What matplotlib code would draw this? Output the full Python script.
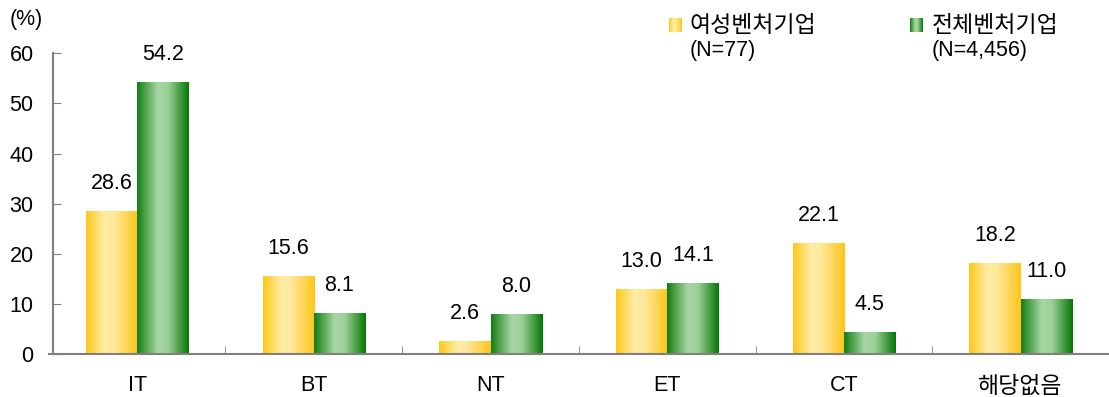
import numpy as np
import matplotlib.pyplot as plt
from matplotlib.colors import to_rgb

plt.rcParams['font.family'] = ['Liberation Sans', 'Noto Sans CJK KR']

categories = ['IT', 'BT', 'NT', 'ET', 'CT', '해당없음']
women = [28.6, 15.6, 2.6, 13.0, 22.1, 18.2]
total = [54.2, 8.1, 8.0, 14.1, 4.5, 11.0]
women_lbl = ['28.6', '15.6', '2.6', '13.0', '22.1', '18.2']
total_lbl = ['54.2', '8.1', '8.0', '14.1', '4.5', '11.0']
series_names = ['여성벤처기업', '전체벤처기업']
series_n = ['(N=77)', '(N=4,456)']

# gradient stops across the bar width (pos, colour)
yellow_stops = [(0.0, '#FFC81A'), (0.35, '#FFECA6'), (0.55, '#FFE89A'), (1.0, '#FFC51A')]
green_stops = [(0.0, '#137F13'), (0.4, '#A9D7A6'), (0.6, '#9CCF98'), (1.0, '#067806')]

FS = 15.5
FS_KR = 16.5


def make_grad(stops, n=64):
    xs = np.linspace(0, 1, n)
    pos = [s[0] for s in stops]
    cols = np.array([to_rgb(s[1]) for s in stops])
    img = np.stack([np.interp(xs, pos, cols[:, k]) for k in range(3)], axis=-1)
    return img[np.newaxis, :, :]


def grad_bar(ax, x, h, w, stops):
    bar = ax.bar(x, h, w, color='none', edgecolor='none')[0]
    im = ax.imshow(make_grad(stops), extent=[x - w / 2, x + w / 2, 0, h],
                   aspect='auto', zorder=2, interpolation='bilinear')
    im.set_clip_path(bar)


fig = plt.figure(figsize=(11.09, 3.97), dpi=100)
ax = fig.add_axes([0.044, 0.108, 0.956, 0.758])

w = 0.29
x = np.arange(len(categories))
for i in x:
    grad_bar(ax, i - w / 2, women[i], w, yellow_stops)
    grad_bar(ax, i + w / 2, total[i], w, green_stops)
    ax.text(i - w / 2, women[i] + 3.4, women_lbl[i], ha='center', va='bottom', fontsize=FS)
    ax.text(i + w / 2, total[i] + 3.4, total_lbl[i], ha='center', va='bottom', fontsize=FS)

ax.set_xlim(-0.5, len(categories) - 0.5)
ax.set_ylim(0, 60)
ax.set_yticks(range(0, 61, 10))
ax.set_xticks(x)
ax.set_xticklabels(categories, fontsize=FS)
ax.get_xticklabels()[-1].set_fontsize(FS_KR)
ax.set_xticks(np.arange(0.5, len(categories) - 0.5, 1), minor=True)
ax.tick_params(axis='x', which='major', length=0, pad=15)
ax.tick_params(axis='x', which='minor', direction='in', length=6, color='#808080')
ax.tick_params(axis='y', direction='in', length=6, color='#808080', labelsize=FS, pad=14)
for s in ['top', 'right']:
    ax.spines[s].set_visible(False)
for s in ['left', 'bottom']:
    ax.spines[s].set_color('#808080')
    ax.spines[s].set_linewidth(1.5)
ax.spines['left'].set_position(('outward', -3))

fig.text(0.009, 0.95, '(%)', fontsize=FS, va='center')

# legend
for nm, nn, stops, lx in zip(series_names, series_n, [yellow_stops, green_stops], [0.603, 0.821]):
    lax = fig.add_axes([lx, 0.919, 0.011, 0.035])
    lax.imshow(make_grad(stops), aspect='auto', extent=[0, 1, 0, 1])
    lax.axis('off')
    fig.text(lx + 0.019, 0.937, nm, fontsize=FS_KR, va='center')
    fig.text(lx + 0.019, 0.872, nn, fontsize=FS, va='center')

fig.savefig('out.png', dpi=100)
